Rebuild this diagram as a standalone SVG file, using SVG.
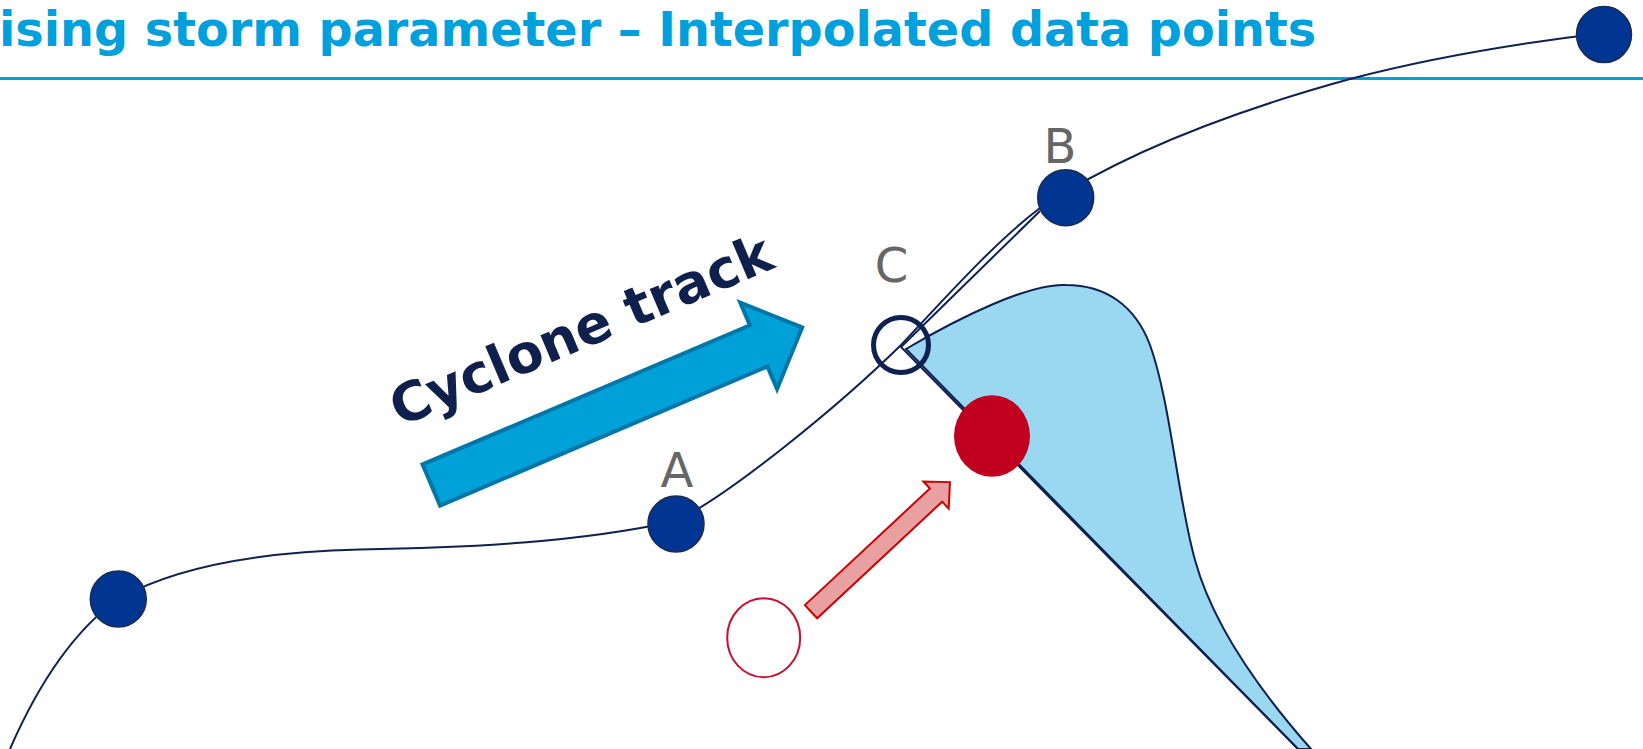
<svg xmlns="http://www.w3.org/2000/svg" width="1643" height="749" viewBox="0 0 1643 749">
  <style>
    .title { font-family: "DejaVu Sans", Verdana, sans-serif; font-weight: bold; font-size: 47.7px; fill: #00a0dc; }
    .label { font-family: "DejaVu Sans", Verdana, sans-serif; font-size: 48px; fill: #666666; text-anchor: middle; }
    .track { fill: none; stroke: #0f2150; stroke-width: 2; stroke-linejoin: miter; }
    .node { fill: #003591; stroke: #1b2a4e; stroke-width: 1.5; }
    .caption { font-family: "DejaVu Sans", Verdana, sans-serif; font-weight: bold; font-size: 53.5px; fill: #10204c; text-anchor: middle; }
  </style>
  <rect width="1643" height="749" fill="#ffffff"/>

  <!-- heading -->
  <g id="heading">
    <text class="title" x="-1" y="46">ising storm parameter – Interpolated data points</text>
    <line x1="0" y1="78.5" x2="1643" y2="78.5" stroke="#00a0dc" stroke-width="3"/>
  </g>

  <!-- wind field wedge around the interpolated point -->
  <g id="wedge">
    <path d="M906,349 C960,317 1030,283 1066,285 C1105,285 1135,305 1150,345 C1170,400 1178,500 1195,560 C1210,615 1250,680 1311,749 L1298,749 Z" fill="#9ad7f0" stroke="#0f2150" stroke-width="2"/>
  </g>

  <!-- connectors -->
  <g id="connectors">
    <path class="track" d="M10,749 C40,680 75,630 118,599 C170,570 250,552 360,549.5 C470,548 580,542 676,521 C730,495 840,405 901,345 C946,297 995,242 1040,208 C1120,155 1230,112 1350,79 C1430,58 1520,43 1604,33"/>
    <polyline class="track" points="1040,211 901,347 1298,749" stroke-width="1.8"/>
  </g>

  <!-- direction arrow with caption -->
  <g id="cyclone-track">
    <polygon points="0,-22.4 355.7,-22.4 355.7,-47 403,0 355.7,47 355.7,22.4 0,22.4" transform="translate(431.3,485) rotate(-23.03)" fill="#00a0d8" stroke="#0076a8" stroke-width="4"/>
    <text class="caption" transform="translate(588,347) rotate(-23)" x="0" y="0">Cyclone track</text>
  </g>

  <!-- track points -->
  <g id="node-left"><circle class="node" cx="118.3" cy="599" r="28"/></g>
  <g id="node-a">
    <circle class="node" cx="676" cy="524" r="28"/>
    <text class="label" x="677" y="487">A</text>
  </g>
  <g id="node-b">
    <circle class="node" cx="1065.7" cy="197.7" r="28"/>
    <text class="label" x="1060" y="163">B</text>
  </g>
  <g id="node-top"><ellipse class="node" cx="1604" cy="34.6" rx="27.5" ry="28"/></g>

  <!-- interpolated point -->
  <g id="node-c">
    <circle cx="901" cy="345" r="27.5" fill="none" stroke="#0f2150" stroke-width="5"/>
    <text class="label" x="891.5" y="282">C</text>
  </g>

  <!-- shifted site marker -->
  <g id="site-old">
    <ellipse cx="763.7" cy="637.7" rx="36.5" ry="39.5" fill="#ffffff" stroke="#c8102e" stroke-width="2"/>
  </g>
  <g id="shift-arrow">
    <polygon points="0,-9 171,-9 171,-18.5 190,0 171,18.5 171,9 0,9" transform="translate(811,611.7) rotate(-43)" fill="#e8a0a0" stroke="#cc0000" stroke-width="2"/>
  </g>
  <g id="site-new">
    <ellipse cx="992" cy="436" rx="38" ry="40.8" fill="#c0001e"/>
  </g>
</svg>
